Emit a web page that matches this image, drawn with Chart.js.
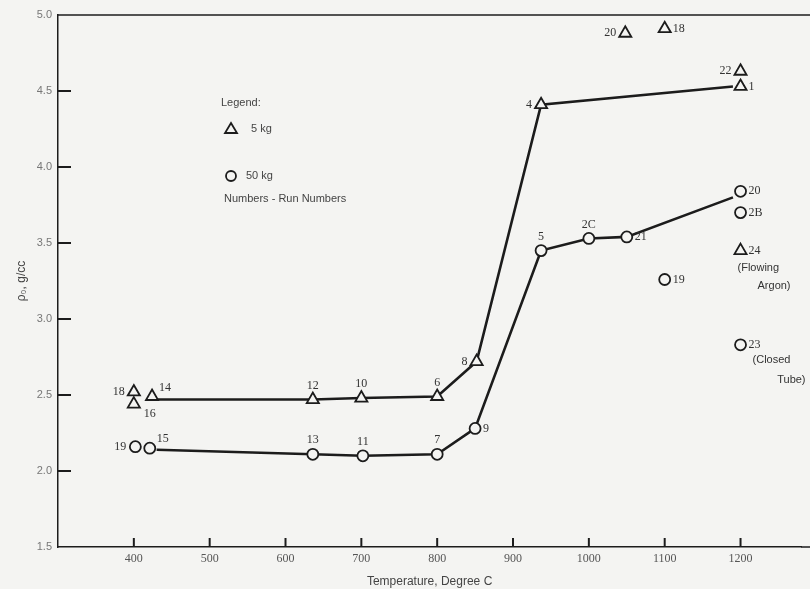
<!DOCTYPE html>
<html>
<head>
<meta charset="utf-8">
<script src="https://cdn.jsdelivr.net/npm/chart.js@4/dist/chart.umd.min.js"></script>
<style>
  html, body { margin: 0; padding: 0; background: #f4f4f2; }
  #wrap { width: 810px; height: 589px; }
</style>
</head>
<body>
<div id="wrap"><canvas id="grafico" width="810" height="589"></canvas></div>
<script>
// Ticks
const xTicks = [400, 500, 600, 700, 800, 900, 1000, 1100, 1200];
const yTicks = [1.5, 2.0, 2.5, 3.0, 3.5, 4.0, 4.5, 5.0];

// 5 kg runs (triangles)
const tri5kgTemp = [400, 400, 424, 636, 700, 800, 852, 937, 1048, 1100, 1200, 1200, 1200];
const tri5kgDens = [2.52, 2.44, 2.49, 2.47, 2.48, 2.49, 2.72, 4.41, 4.88, 4.91, 4.63, 4.53, 3.45];
const tri5kgRun = ['18', '16', '14', '12', '10', '6', '8', '4', '20', '18', '22', '1', '24'];

// 50 kg runs (circles)
const circ50kgTemp = [402, 421, 636, 702, 800, 850, 937, 1000, 1050, 1200, 1200, 1100, 1200];
const circ50kgDens = [2.16, 2.15, 2.11, 2.10, 2.11, 2.28, 3.45, 3.53, 3.54, 3.84, 3.70, 3.26, 2.83];
const circ50kgRun = ['19', '15', '13', '11', '7', '9', '5', '2C', '21', '20', '2B', '19', '23'];

// curvas dibujadas a mano
const line5kgTemp = [430, 636, 700, 800, 852, 937, 1190];
const line5kgDens = [2.47, 2.47, 2.48, 2.49, 2.72, 4.41, 4.53];
const line50kgTemp = [430, 636, 702, 800, 850, 937, 1000, 1050, 1190];
const line50kgDens = [2.14, 2.11, 2.10, 2.11, 2.28, 3.45, 3.53, 3.54, 3.80];

// donde va cada numero respecto al simbolo
const tri5kgPlace = ['L', 'BR', 'TR', 'T', 'T', 'T', 'L', 'L', 'L', 'R', 'L', 'R', 'R'];
const circ50kgPlace = ['L', 'TR', 'T', 'T', 'T', 'R', 'T', 'T', 'R', 'R', 'R', 'R', 'R'];

const BG = '#f4f4f2';
const INK = '#1c1c1c';

const pts = (xs, ys) => xs.map((x, i) => ({ x, y: ys[i] }));

const offsets = {
  L: [-9, 0, 'right'],
  R: [8, 0, 'left'],
  T: [0, -14, 'center'],
  TR: [7, -9, 'left'],
  BR: [10, 10, 'left']
};

function drawLabels(chart, dsIndex, runs, places) {
  const ctx = chart.ctx;
  const meta = chart.getDatasetMeta(dsIndex);
  ctx.save();
  ctx.fillStyle = '#333';
  ctx.font = '12px "Liberation Serif"';
  ctx.textBaseline = 'middle';
  meta.data.forEach((el, i) => {
    const o = offsets[places[i]];
    ctx.textAlign = o[2];
    ctx.fillText(runs[i], el.x + o[0], el.y + o[1]);
  });
  ctx.restore();
}

const extras = {
  id: 'extras',
  afterDatasetsDraw(chart) {
    const ctx = chart.ctx;
    const area = chart.chartArea;
    const xs = chart.scales.x;
    const ys = chart.scales.y;

    ctx.save();
    ctx.strokeStyle = INK;
    // borde superior
    ctx.lineWidth = 1.5;
    ctx.beginPath();
    ctx.moveTo(area.left, area.top);
    ctx.lineTo(chart.width, area.top);
    ctx.stroke();
    // eje inferior hasta el borde
    ctx.beginPath();
    ctx.moveTo(area.right, area.bottom);
    ctx.lineTo(chart.width, area.bottom);
    ctx.stroke();
    // marcas hacia adentro
    ctx.lineWidth = 2;
    xTicks.forEach(v => {
      const px = xs.getPixelForValue(v);
      ctx.beginPath();
      ctx.moveTo(px, area.bottom);
      ctx.lineTo(px, area.bottom - 9);
      ctx.stroke();
    });
    yTicks.slice(1, -1).forEach(v => {
      const py = ys.getPixelForValue(v);
      ctx.beginPath();
      ctx.moveTo(area.left, py);
      ctx.lineTo(area.left + 13, py);
      ctx.stroke();
    });
    ctx.restore();

    drawLabels(chart, 2, tri5kgRun, tri5kgPlace);
    drawLabels(chart, 3, circ50kgRun, circ50kgPlace);

    // notas de las corridas 24 y 23
    ctx.save();
    ctx.fillStyle = '#333';
    ctx.font = '11px "Liberation Sans"';
    ctx.textBaseline = 'middle';
    const p24 = chart.getDatasetMeta(2).data[12];
    ctx.textAlign = 'left';
    ctx.fillText('(Flowing', p24.x - 3, p24.y + 17);
    ctx.textAlign = 'right';
    ctx.fillText('Argon)', p24.x + 50, p24.y + 35);
    const p23 = chart.getDatasetMeta(3).data[12];
    ctx.textAlign = 'left';
    ctx.fillText('(Closed', p23.x + 12, p23.y + 15);
    ctx.textAlign = 'right';
    ctx.fillText('Tube)', p23.x + 65, p23.y + 35);

    // leyenda
    ctx.fillStyle = '#444';
    ctx.textAlign = 'left';
    ctx.font = '11px "Liberation Sans"';
    ctx.fillText('Legend:', 221, 103);
    ctx.fillText('5 kg', 251, 129);
    ctx.fillText('50 kg', 246, 176);
    ctx.fillText('Numbers - Run Numbers', 224, 199);
    ctx.strokeStyle = INK;
    ctx.lineWidth = 1.8;
    ctx.beginPath();
    ctx.moveTo(231, 123);
    ctx.lineTo(237, 133);
    ctx.lineTo(225, 133);
    ctx.closePath();
    ctx.stroke();
    ctx.beginPath();
    ctx.arc(231, 176, 5, 0, Math.PI * 2);
    ctx.stroke();
    ctx.restore();
  }
};

new Chart(document.getElementById('grafico').getContext('2d'), {
  type: 'scatter',
  data: {
    datasets: [
      { label: '5 kg curve', type: 'line', data: pts(line5kgTemp, line5kgDens), borderColor: INK, borderWidth: 2.6, pointRadius: 0, tension: 0, order: 3 },
      { label: '50 kg curve', type: 'line', data: pts(line50kgTemp, line50kgDens), borderColor: INK, borderWidth: 2.6, pointRadius: 0, tension: 0, order: 3 },
      { label: '5 kg', data: pts(tri5kgTemp, tri5kgDens), pointStyle: 'triangle', pointRadius: 7, backgroundColor: BG, borderColor: INK, borderWidth: 1.8, order: 1 },
      { label: '50 kg', data: pts(circ50kgTemp, circ50kgDens), pointStyle: 'circle', pointRadius: 5.5, backgroundColor: BG, borderColor: INK, borderWidth: 1.8, order: 1 }
    ]
  },
  options: {
    responsive: false,
    animation: false,
    layout: { padding: { top: 15, right: 0, left: 0, bottom: 0 } },
    plugins: { legend: { display: false }, tooltip: { enabled: false } },
    scales: {
      x: {
        type: 'linear', min: 300, max: 1280,
        afterBuildTicks: s => { s.ticks = xTicks.map(v => ({ value: v })); },
        afterFit: s => { s.height = 42; },
        grid: { drawOnChartArea: false, drawTicks: false },
        border: { color: INK, width: 1.5 },
        ticks: { color: '#555', padding: 5, font: { family: 'Liberation Serif', size: 12 }, callback: v => String(v) },
        title: { display: true, text: 'Temperature, Degree C', color: '#444', padding: { top: 2, bottom: 0 }, font: { family: 'Liberation Sans', size: 12 } }
      },
      y: {
        min: 1.5, max: 5.0,
        afterBuildTicks: s => { s.ticks = yTicks.map(v => ({ value: v })); },
        afterFit: s => { s.width = 58; },
        grid: { drawOnChartArea: false, drawTicks: false },
        border: { color: INK, width: 1.5 },
        ticks: { color: '#777', padding: 6, font: { family: 'Liberation Sans', size: 11 }, callback: v => v.toFixed(1) },
        title: { display: true, text: 'ρ₀, g/cc', color: '#444', padding: { top: 14, bottom: 2 }, font: { family: 'Liberation Sans', size: 12 } }
      }
    }
  },
  plugins: [extras]
});
</script>
</body>
</html>
